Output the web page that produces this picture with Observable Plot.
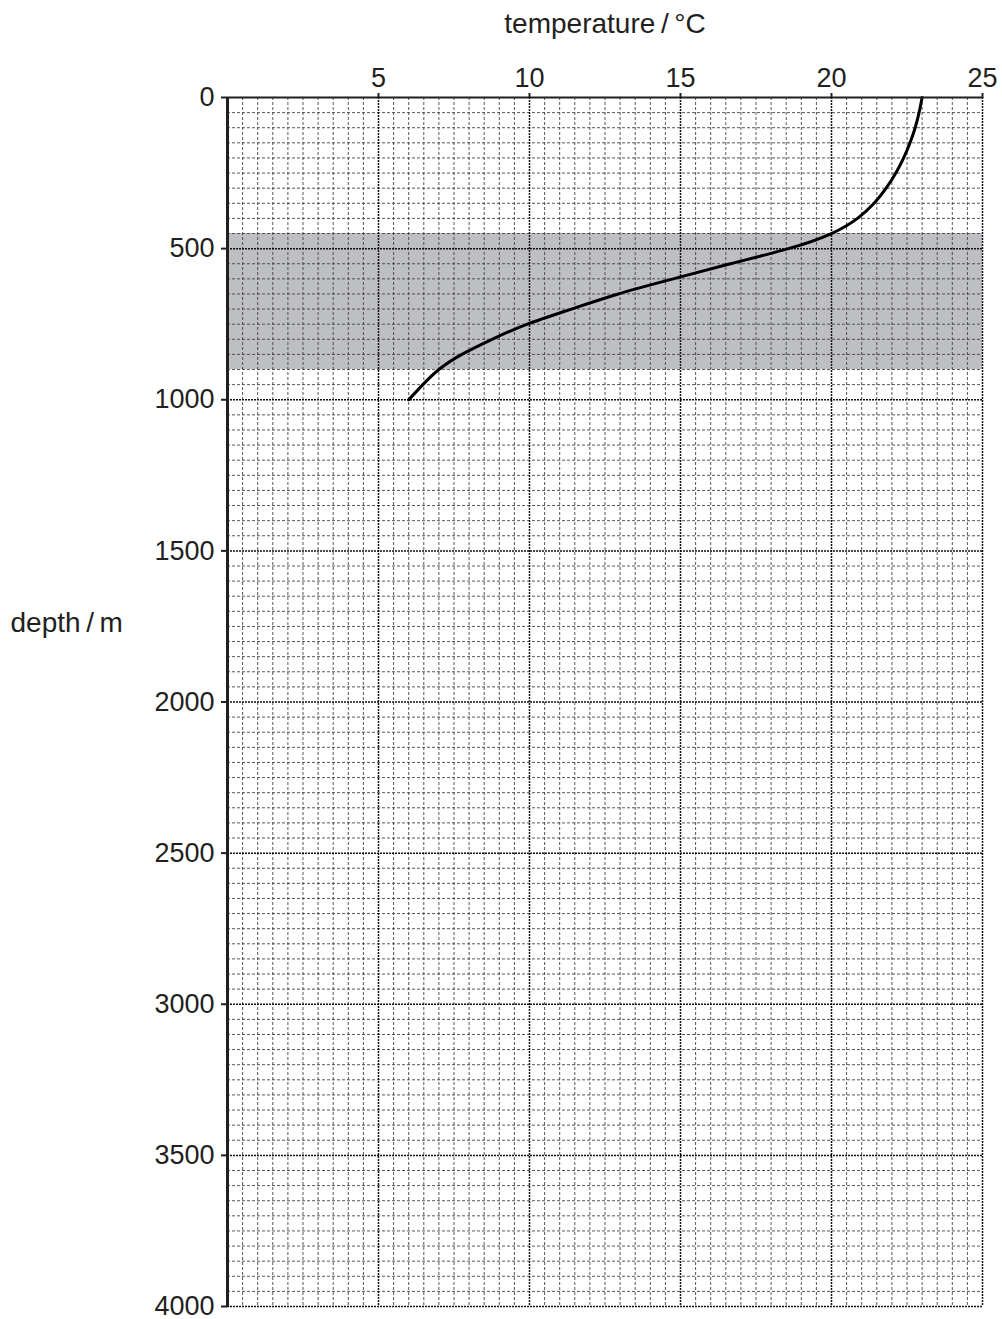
<!DOCTYPE html>
<html>
<head>
<meta charset="utf-8">
<script src="https://cdn.jsdelivr.net/npm/d3@7"></script>
<script src="https://cdn.jsdelivr.net/npm/@observablehq/plot@0.6"></script>
<style>
  html, body { margin: 0; padding: 0; background: #fff; }
</style>
</head>
<body>
<div id="chart"></div>
<script>
// Temperature profile (°C) read every 50 m of depth
const depth       = [0, 50, 100, 150, 200, 250, 300, 350, 400, 450, 500, 550, 600, 650, 700, 750, 800, 850, 900, 950, 1000];
const temperature = [23, 22.9, 22.77, 22.6, 22.39, 22.13, 21.81, 21.41, 20.86, 20.0, 18.57, 16.65, 14.76, 12.94, 11.39, 9.93, 8.76, 7.76, 7.0, 6.47, 6.0];

// shaded thermocline band (m)
const bandTop = 450;
const bandBottom = 900;

// tick values
const xTicks = [5, 10, 15, 20, 25];
const yTicks = [0, 500, 1000, 1500, 2000, 2500, 3000, 3500, 4000];
const xMinor = d3.range(0.5, 25.01, 0.5).filter(v => v % 5 !== 0);
const yMinor = d3.range(50, 4000.1, 50).filter(v => v % 500 !== 0);
const xMajor = [5, 10, 15, 20, 25];
const yMajor = [500, 1000, 1500, 2000, 2500, 3000, 3500, 4000];

const profile = temperature.map((t, i) => ({t, d: depth[i]}));

const font = "'Liberation Sans', Arial, Helvetica, sans-serif";

const chart = Plot.plot({
  width: 1002,
  height: 1319,
  marginLeft: 227,
  marginRight: 20,
  marginTop: 97,
  marginBottom: 13,
  style: {fontFamily: font, color: "#231f20", background: "#fff", overflow: "visible"},
  x: {domain: [0, 25]},
  y: {domain: [0, 4000], reverse: true},
  marks: [
    Plot.rect([{y1: bandTop, y2: bandBottom}], {x1: 0, x2: 25, y1: "y1", y2: "y2", fill: "#bebfc3"}),
    Plot.ruleX(xMinor, {stroke: "#444", strokeWidth: 0.9, strokeDasharray: "3,2"}),
    Plot.ruleY(yMinor, {stroke: "#444", strokeWidth: 0.9, strokeDasharray: "3,2"}),
    Plot.ruleX(xMajor, {stroke: "#111", strokeWidth: 1.5, strokeDasharray: "2,1"}),
    Plot.ruleY(yMajor, {stroke: "#111", strokeWidth: 1.5, strokeDasharray: "2,1"}),
    Plot.line(profile, {x: "t", y: "d", curve: "natural", stroke: "#000", strokeWidth: 3}),
    Plot.ruleY([0], {stroke: "#231f20", strokeWidth: 2}),
    Plot.ruleX([0], {stroke: "#231f20", strokeWidth: 3}),
    Plot.axisX(xTicks, {anchor: "top", label: null, tickSize: 5, tickPadding: 6, fontSize: 27, strokeWidth: 2}),
    Plot.axisY(yTicks, {anchor: "left", label: null, tickSize: 6, tickPadding: 7, fontSize: 27, strokeWidth: 2, tickFormat: d3.format("d")}),
    Plot.text(["temperature\u2009/\u2009°C"], {frameAnchor: "top", dy: -65, lineAnchor: "bottom", fontSize: 28, fill: "#231f20"}),
    Plot.text(["depth\u2009/\u2009m"], {frameAnchor: "top-left", dx: -217, dy: 534, lineAnchor: "bottom", textAnchor: "start", fontSize: 28, fill: "#231f20"})
  ]
});

document.getElementById("chart").appendChild(chart);
</script>
</body>
</html>
